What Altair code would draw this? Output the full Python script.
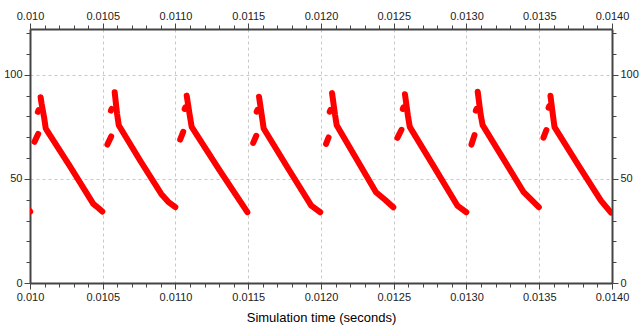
import altair as alt
import pandas as pd

# ---- data (time in seconds, value) ----
seg_ids = []
times = []
values = []

def add(seg, ts, vs):
    for t, v in zip(ts, vs):
        seg_ids.append(seg)
        times.append(t)
        values.append(v)

tail_t = [0.010000, 0.0100015]
tail_v = [34.5, 34.3]

# period blobs (small rising segment), dots, and main decay curves
p0_blob_t = [0.010031, 0.010056]; p0_blob_v = [67.8, 71.6]
p0_dot_t = [0.010054, 0.010059];  p0_dot_v = [82.2, 83.0]
p0_main_t = [0.010073, 0.010080, 0.010098, 0.010108, 0.010115, 0.010275, 0.010435, 0.010470, 0.010497]
p0_main_v = [89.2, 86.0, 79.1, 74.3, 73.4, 56.0, 38.0, 36.0, 34.3]

p1_blob_t = [0.010532, 0.010558]; p1_blob_v = [66.5, 70.4]
p1_dot_t = [0.010556, 0.010561];  p1_dot_v = [82.8, 83.6]
p1_main_t = [0.010582, 0.010598, 0.010610, 0.010760, 0.010902, 0.010950, 0.010999]
p1_main_v = [91.6, 81.5, 75.8, 58.5, 42.8, 39.0, 36.4]

p2_blob_t = [0.011032, 0.011053]; p2_blob_v = [68.9, 72.6]
p2_dot_t = [0.011063, 0.011068];  p2_dot_v = [83.6, 84.4]
p2_main_t = [0.011077, 0.011098, 0.011111, 0.011300, 0.011494]
p2_main_v = [90.0, 80.5, 75.0, 54.5, 34.0]

p3_blob_t = [0.011534, 0.011555]; p3_blob_v = [67.3, 70.7]
p3_dot_t = [0.011558, 0.011563];  p3_dot_v = [82.3, 83.1]
p3_main_t = [0.011574, 0.011594, 0.011606, 0.011770, 0.011933, 0.011995]
p3_main_v = [89.5, 80.0, 74.2, 55.5, 37.2, 34.0]

p4_blob_t = [0.012035, 0.012052]; p4_blob_v = [66.8, 69.9]
p4_dot_t = [0.012060, 0.012065];  p4_dot_v = [82.3, 83.1]
p4_main_t = [0.012076, 0.012096, 0.012108, 0.012240, 0.012378, 0.012440, 0.012497]
p4_main_v = [91.2, 81.0, 75.8, 60.0, 43.6, 40.0, 36.4]

p5_blob_t = [0.012525, 0.012553]; p5_blob_v = [69.7, 73.6]
p5_dot_t = [0.012562, 0.012567];  p5_dot_v = [83.6, 84.4]
p5_main_t = [0.012577, 0.012597, 0.012610, 0.012775, 0.012937, 0.012999]
p5_main_v = [90.7, 80.5, 75.0, 56.0, 37.2, 34.0]

p6_blob_t = [0.013034, 0.013055]; p6_blob_v = [66.5, 71.0]
p6_dot_t = [0.013064, 0.013069];  p6_dot_v = [82.8, 83.6]
p6_main_t = [0.013077, 0.013097, 0.013111, 0.013250, 0.013393, 0.013445, 0.013497]
p6_main_v = [91.9, 81.0, 75.8, 60.0, 43.6, 40.0, 36.4]

p7_blob_t = [0.013529, 0.013549]; p7_blob_v = [69.8, 73.5]
p7_dot_t = [0.013564, 0.013569];  p7_dot_v = [84.2, 85.0]
p7_main_t = [0.013577, 0.013595, 0.013605, 0.013765, 0.013924, 0.013993]
p7_main_v = [89.9, 80.0, 74.9, 57.0, 39.6, 33.8]

add("tail", tail_t, tail_v)
for i, (bt, bv, dt, dv, mt, mv) in enumerate([
    (p0_blob_t, p0_blob_v, p0_dot_t, p0_dot_v, p0_main_t, p0_main_v),
    (p1_blob_t, p1_blob_v, p1_dot_t, p1_dot_v, p1_main_t, p1_main_v),
    (p2_blob_t, p2_blob_v, p2_dot_t, p2_dot_v, p2_main_t, p2_main_v),
    (p3_blob_t, p3_blob_v, p3_dot_t, p3_dot_v, p3_main_t, p3_main_v),
    (p4_blob_t, p4_blob_v, p4_dot_t, p4_dot_v, p4_main_t, p4_main_v),
    (p5_blob_t, p5_blob_v, p5_dot_t, p5_dot_v, p5_main_t, p5_main_v),
    (p6_blob_t, p6_blob_v, p6_dot_t, p6_dot_v, p6_main_t, p6_main_v),
    (p7_blob_t, p7_blob_v, p7_dot_t, p7_dot_v, p7_main_t, p7_main_v),
]):
    add(f"p{i}_blob", bt, bv)
    add(f"p{i}_dot", dt, dv)
    add(f"p{i}_main", mt, mv)

df = pd.DataFrame({"seg": seg_ids, "t": times, "v": values})
df["i"] = range(len(df))

# ---- tick positions ----
x_ticks = [round(0.0100 + 0.0001 * k, 4) for k in range(41)]
y_ticks = [0, 10, 20, 30, 40, 50, 60, 70, 80, 90, 100, 110, 120]

x_major_test = "abs(datum.value*2000 - round(datum.value*2000)) < 1e-6"
y_major_test = "datum.value % 50 == 0"
x_label_expr = f"{x_major_test} ? (datum.value < 0.01001 ? '0.010' : format(datum.value, '.4f')) : ''"
y_label_expr = f"{y_major_test} ? datum.label : ''"

FONT = "Liberation Sans"

def x_axis(orient, grid, title):
    kw = dict(
        orient=orient, values=x_ticks, labelExpr=x_label_expr, labelOverlap=False,
        tickSize={"condition": {"test": x_major_test, "value": 6}, "value": 4},
        tickColor="#444", tickWidth=1,
        domainColor="#444", domainWidth=2,
        labelFont=FONT, labelFontSize=11, labelColor="#222", labelPadding=2,
        labelFlush=False,
        grid=grid,
    )
    if grid:
        kw.update(gridColor="#c8c8c8", gridDash=[3, 3], gridWidth=1,
                  gridOpacity={"condition": {"test": x_major_test, "value": 1}, "value": 0})
    if title:
        kw.update(title=title, titleFont=FONT, titleFontSize=13, titleFontWeight="normal",
                  titleColor="#000", titlePadding=9)
    return alt.Axis(**kw)

def y_axis(orient, grid):
    kw = dict(
        orient=orient, values=y_ticks, labelExpr=y_label_expr, labelOverlap=False,
        tickSize={"condition": {"test": y_major_test, "value": 6}, "value": 4},
        tickColor="#444", tickWidth=1,
        domainColor="#444", domainWidth=2,
        labelFont=FONT, labelFontSize=11, labelColor="#222", labelPadding=2,
        labelFlush=False,
        grid=grid,
    )
    if grid:
        kw.update(gridColor="#c8c8c8", gridDash=[3, 3], gridWidth=1,
                  gridOpacity={"condition": {"test": y_major_test, "value": 1}, "value": 0})
    return alt.Axis(**kw)

xscale = alt.Scale(domain=[0.010, 0.014], nice=False, zero=False)
yscale = alt.Scale(domain=[0, 122], nice=False)

main = alt.Chart(df).mark_line(
    color="#ff0000", strokeWidth=6, strokeCap="round", strokeJoin="round", clip=True
).encode(
    x=alt.X("t:Q", scale=xscale, axis=x_axis("bottom", True, "Simulation time (seconds)")),
    y=alt.Y("v:Q", scale=yscale, axis=y_axis("left", True), title=""),
    detail="seg:N",
    order="i:Q",
)

mirror = alt.Chart(df).mark_line(opacity=0, clip=True).encode(
    x=alt.X("t:Q", scale=xscale, axis=x_axis("top", False, ""), title=""),
    y=alt.Y("v:Q", scale=yscale, axis=y_axis("right", False), title=""),
    detail="seg:N",
    order="i:Q",
)

chart = alt.layer(mirror, main).resolve_axis(x="independent", y="independent").properties(
    width=582, height=254,
    autosize=alt.AutoSizeParams(type="none"),
    padding={"left": 30, "top": 29, "right": 27, "bottom": 45},
).configure_view(stroke=None).configure(background="white")

chart.save("out.html", embed_options={"renderer": "svg", "actions": False})
